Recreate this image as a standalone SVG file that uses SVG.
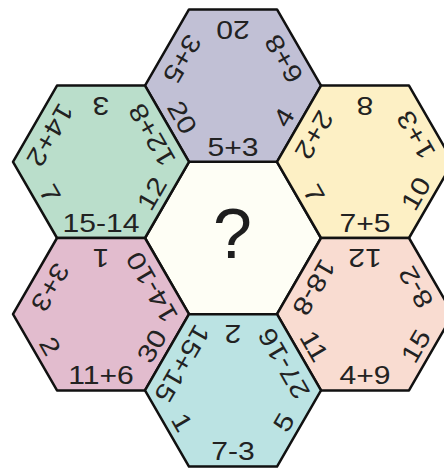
<svg xmlns="http://www.w3.org/2000/svg" xmlns:xlink="http://www.w3.org/1999/xlink" width="444" height="468" viewBox="0 0 444 468">
<style>
.hex{stroke:#111;stroke-width:2.5;stroke-linejoin:round}
.lbl{font-family:"Liberation Sans",Arial,sans-serif;font-size:25.5px;fill:#222;text-anchor:middle}
.q{font-family:"Liberation Sans",Arial,sans-serif;font-size:70px;fill:#1e1e1e;text-anchor:middle}
</style>
<defs>
<path id="hex" d="M-88,0 L-44,-76.2 L44,-76.2 L88,0 L44,76.2 L-44,76.2 Z"/>
</defs>
<rect width="444" height="468" fill="#ffffff"/>
<g id="center">
<use xlink:href="#hex" class="hex" fill="#fefef5" transform="translate(233,238)"/>
<text class="q" x="232.5" y="258">?</text>
</g>
<g id="top">
<use xlink:href="#hex" class="hex" fill="#c1c0d5" transform="translate(233,85.6)"/>
<text class="lbl" transform="translate(233,88.1) rotate(0) translate(0,67.5) scale(1.18,1)">5+3</text>
<text class="lbl" transform="translate(233,88.1) rotate(-60) translate(0,67.5) scale(1.18,1)">4</text>
<text class="lbl" transform="translate(233,88.1) rotate(-120) translate(0,67.5) scale(1.18,1)">6+8</text>
<text class="lbl" transform="translate(233,88.1) rotate(180) translate(0,67.5) scale(1.18,1)">20</text>
<text class="lbl" transform="translate(233,88.1) rotate(120) translate(0,67.5) scale(1.18,1)">3+5</text>
<text class="lbl" transform="translate(233,88.1) rotate(60) translate(0,67.5) scale(1.18,1)">20</text>
</g>
<g id="upper-left">
<use xlink:href="#hex" class="hex" fill="#badecb" transform="translate(101,161.8)"/>
<text class="lbl" transform="translate(101,164.3) rotate(0) translate(0,67.5) scale(1.18,1)">15-14</text>
<text class="lbl" transform="translate(101,164.3) rotate(-60) translate(0,67.5) scale(1.18,1)">12</text>
<text class="lbl" transform="translate(101,164.3) rotate(-120) translate(0,67.5) scale(1.18,1)">12+8</text>
<text class="lbl" transform="translate(101,164.3) rotate(180) translate(0,67.5) scale(1.18,1)">3</text>
<text class="lbl" transform="translate(101,164.3) rotate(120) translate(0,67.5) scale(1.18,1)">14+2</text>
<text class="lbl" transform="translate(101,164.3) rotate(60) translate(0,67.5) scale(1.18,1)">7</text>
</g>
<g id="upper-right">
<use xlink:href="#hex" class="hex" fill="#fdf0c5" transform="translate(365,161.8)"/>
<text class="lbl" transform="translate(365,164.3) rotate(0) translate(0,67.5) scale(1.18,1)">7+5</text>
<text class="lbl" transform="translate(365,164.3) rotate(-60) translate(0,67.5) scale(1.18,1)">10</text>
<text class="lbl" transform="translate(365,164.3) rotate(-120) translate(0,67.5) scale(1.18,1)">1+3</text>
<text class="lbl" transform="translate(365,164.3) rotate(180) translate(0,67.5) scale(1.18,1)">8</text>
<text class="lbl" transform="translate(365,164.3) rotate(120) translate(0,67.5) scale(1.18,1)">2+2</text>
<text class="lbl" transform="translate(365,164.3) rotate(60) translate(0,67.5) scale(1.18,1)">7</text>
</g>
<g id="lower-left">
<use xlink:href="#hex" class="hex" fill="#e2bcce" transform="translate(101,314.2)"/>
<text class="lbl" transform="translate(101,316.7) rotate(0) translate(0,67.5) scale(1.18,1)">11+6</text>
<text class="lbl" transform="translate(101,316.7) rotate(-60) translate(0,67.5) scale(1.18,1)">30</text>
<text class="lbl" transform="translate(101,316.7) rotate(-120) translate(0,67.5) scale(1.18,1)">14-10</text>
<text class="lbl" transform="translate(101,316.7) rotate(180) translate(0,67.5) scale(1.18,1)">1</text>
<text class="lbl" transform="translate(101,316.7) rotate(120) translate(0,67.5) scale(1.18,1)">3+3</text>
<text class="lbl" transform="translate(101,316.7) rotate(60) translate(0,67.5) scale(1.18,1)">2</text>
</g>
<g id="lower-right">
<use xlink:href="#hex" class="hex" fill="#f9dcd1" transform="translate(365,314.2)"/>
<text class="lbl" transform="translate(365,316.7) rotate(0) translate(0,67.5) scale(1.18,1)">4+9</text>
<text class="lbl" transform="translate(365,316.7) rotate(-60) translate(0,67.5) scale(1.18,1)">15</text>
<text class="lbl" transform="translate(365,316.7) rotate(-120) translate(0,67.5) scale(1.18,1)">8-2</text>
<text class="lbl" transform="translate(365,316.7) rotate(180) translate(0,67.5) scale(1.18,1)">12</text>
<text class="lbl" transform="translate(365,316.7) rotate(120) translate(0,67.5) scale(1.18,1)">18-8</text>
<text class="lbl" transform="translate(365,316.7) rotate(60) translate(0,67.5) scale(1.18,1)">11</text>
</g>
<g id="bottom">
<use xlink:href="#hex" class="hex" fill="#bbe3e3" transform="translate(233,390.4)"/>
<text class="lbl" transform="translate(233,392.9) rotate(0) translate(0,67.5) scale(1.18,1)">7-3</text>
<text class="lbl" transform="translate(233,392.9) rotate(-60) translate(0,67.5) scale(1.18,1)">5</text>
<text class="lbl" transform="translate(233,392.9) rotate(-120) translate(0,67.5) scale(1.18,1)">27-16</text>
<text class="lbl" transform="translate(233,392.9) rotate(180) translate(0,67.5) scale(1.18,1)">2</text>
<text class="lbl" transform="translate(233,392.9) rotate(120) translate(0,67.5) scale(1.18,1)">15+15</text>
<text class="lbl" transform="translate(233,392.9) rotate(60) translate(0,67.5) scale(1.18,1)">1</text>
</g>
<g id="connectors"/>
</svg>
